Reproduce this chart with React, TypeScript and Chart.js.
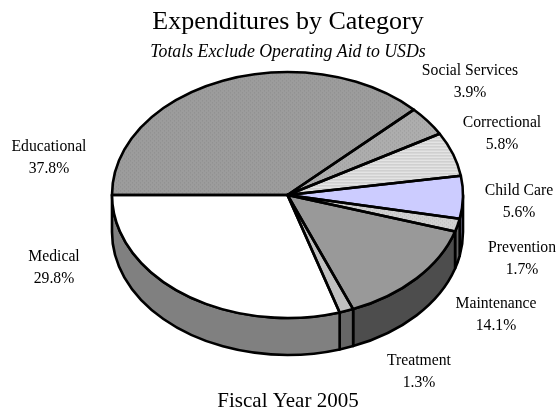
import React, { useEffect, useRef } from "react";
import { Chart, registerables } from "chart.js";

Chart.register(...registerables);

const WIDTH = 558;
const HEIGHT = 413;

const chartTitle = "Expenditures by Category";
const chartSubtitle = "Totals Exclude Operating Aid to USDs";
const chartFooter = "Fiscal Year 2005";

const categories = [
  "Educational",
  "Social Services",
  "Correctional",
  "Child Care",
  "Prevention",
  "Maintenance",
  "Treatment",
  "Medical",
];
const shares = [37.8, 3.9, 5.8, 5.6, 1.7, 14.1, 1.3, 29.8];

// Label centres, first line of each two-line caption
const labelX = [49, 470, 502, 519, 522, 496, 419, 54];
const labelY = [147, 71, 123, 191, 248, 304, 361, 257];
const LABEL_LEADING = 22;

// Wall colours of the extruded rim
const wallColors = ["#4c4c4c", "#555555", "#6e6e6e", "#666680", "#666666", "#4d4d4d", "#666666", "#808080"];

// Pie geometry: a circle squashed vertically and given a rim
const CX = 287.5;
const CY = 195;
const RX = 175.5;
const RY = 123;
const DEPTH = 37;
const SQUASH = RY / RX;
const OUTLINE = 2.6;

// Small repeating tile painted as a slice fill; the inverse squash keeps it square on screen
function tile(size: number, paint: (g: CanvasRenderingContext2D) => void, ctx: CanvasRenderingContext2D) {
  const c = document.createElement("canvas");
  c.width = size;
  c.height = size;
  paint(c.getContext("2d")!);
  const p = ctx.createPattern(c, "repeat")!;
  p.setTransform(new DOMMatrix().scale(1, 1 / SQUASH));
  return p;
}

function dotted(ctx: CanvasRenderingContext2D, base: string, dot: string) {
  return tile(
    4,
    (g) => {
      g.fillStyle = base;
      g.fillRect(0, 0, 4, 4);
      g.fillStyle = dot;
      g.fillRect(0, 0, 1, 1);
      g.fillRect(2, 2, 1, 1);
    },
    ctx,
  );
}

function striped(ctx: CanvasRenderingContext2D, base: string, line: string) {
  return tile(
    3,
    (g) => {
      g.fillStyle = base;
      g.fillRect(0, 0, 3, 3);
      g.fillStyle = line;
      g.fillRect(0, 1, 3, 1);
    },
    ctx,
  );
}

const rimPlugin = {
  id: "rim",
  beforeDatasetsDraw(chart: Chart) {
    const { ctx } = chart;
    const arcs = chart.getDatasetMeta(0).data as any[];
    const ring = Math.PI * 2;
    arcs.forEach((arc, i) => {
      // Only the part of a slice lying on the front half of the pie shows its wall
      const from = Math.max(arc.startAngle, ring);
      const to = Math.min(arc.endAngle, ring + Math.PI);
      if (to <= from) return;
      ctx.save();
      ctx.beginPath();
      ctx.ellipse(CX, CY, RX, RY, 0, from, to);
      ctx.lineTo(CX + RX * Math.cos(to), CY + RY * Math.sin(to) + DEPTH);
      ctx.ellipse(CX, CY + DEPTH, RX, RY, 0, to, from, true);
      ctx.closePath();
      ctx.fillStyle = wallColors[i];
      ctx.fill();
      ctx.strokeStyle = "#000";
      ctx.lineWidth = OUTLINE;
      ctx.lineJoin = "round";
      ctx.stroke();
      ctx.restore();
    });
  },
  beforeDatasetDraw(chart: Chart) {
    const { ctx } = chart;
    ctx.save();
    ctx.translate(CX, CY);
    ctx.scale(1, SQUASH);
    ctx.translate(-CX, -CY);
  },
  afterDatasetDraw(chart: Chart) {
    const { ctx } = chart;
    ctx.restore();
    // Outlines are stroked unsquashed so they keep one width all the way round
    const arcs = chart.getDatasetMeta(0).data as any[];
    ctx.save();
    ctx.strokeStyle = "#000";
    ctx.lineWidth = OUTLINE;
    ctx.lineJoin = "round";
    arcs.forEach((arc) => {
      ctx.beginPath();
      ctx.moveTo(CX, CY);
      ctx.ellipse(CX, CY, RX, RY, 0, arc.startAngle, arc.endAngle);
      ctx.closePath();
      ctx.stroke();
    });
    ctx.restore();
  },
  afterDraw(chart: Chart) {
    const { ctx } = chart;
    ctx.save();
    ctx.fillStyle = "#000";
    ctx.textAlign = "center";
    ctx.textBaseline = "middle";
    ctx.font = '26px "Liberation Serif"';
    ctx.fillText(chartTitle, 288, 22);
    ctx.font = 'italic 17.8px "Liberation Serif"';
    ctx.fillText(chartSubtitle, 288, 52);
    ctx.font = '21px "Liberation Serif"';
    ctx.fillText(chartFooter, 288, 401);
    ctx.font = '15.7px "Liberation Serif"';
    categories.forEach((name, i) => {
      ctx.fillText(name, labelX[i], labelY[i]);
      ctx.fillText(`${shares[i].toFixed(1)}%`, labelX[i], labelY[i] + LABEL_LEADING);
    });
    ctx.restore();
  },
};

export default function App() {
  const canvasRef = useRef<HTMLCanvasElement>(null);

  useEffect(() => {
    const canvas = canvasRef.current!;
    const ctx = canvas.getContext("2d")!;
    const fills = [
      dotted(ctx, "#9c9c9c", "#8c8c8c"),
      dotted(ctx, "#adadad", "#9a9a9a"),
      striped(ctx, "#e4e4e4", "#c4c4c4"),
      "#ccccff",
      dotted(ctx, "#d0d0d0", "#bcbcbc"),
      "#999999",
      "#c0c0c0",
      "#ffffff",
    ];
    const chart = new Chart(canvas, {
      type: "pie",
      data: {
        labels: categories,
        datasets: [{ data: shares, backgroundColor: fills as any, borderWidth: 0, hoverOffset: 0 }],
      },
      options: {
        responsive: false,
        animation: false,
        rotation: 270,
        events: [],
        layout: {
          padding: {
            left: CX - RX,
            right: WIDTH - CX - RX,
            top: CY - RX,
            bottom: HEIGHT - CY - RX,
          },
        },
        plugins: { legend: { display: false }, tooltip: { enabled: false }, title: { display: false } },
      },
      plugins: [rimPlugin],
    });
    return () => chart.destroy();
  }, []);

  return (
    <canvas
      ref={canvasRef}
      width={WIDTH}
      height={HEIGHT}
      style={{ position: "fixed", left: 0, top: 0, width: WIDTH, height: HEIGHT, background: "#fff" }}
    />
  );
}
